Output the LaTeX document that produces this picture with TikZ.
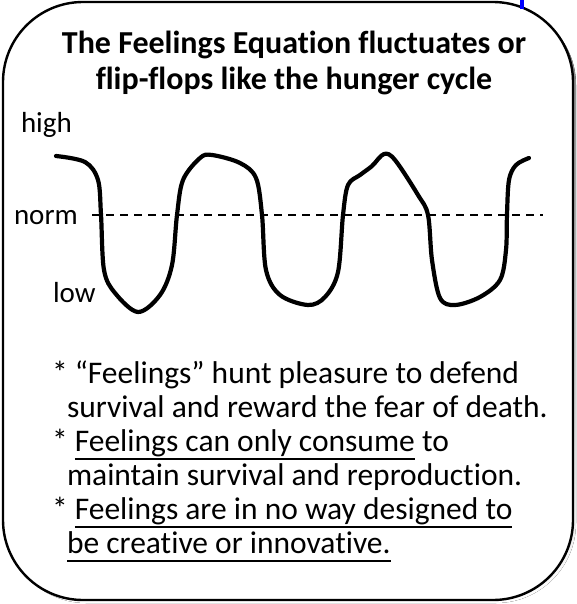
\documentclass[tikz,border=0pt]{standalone}
\usepackage{fontspec}
\setmainfont[Ligatures=NoCommon]{Carlito}
\usepackage{tikz}
\usetikzlibrary{positioning}

\definecolor{shade}{RGB}{165,155,185}
\definecolor{barblue}{RGB}{0,0,255}
\newcommand{\ulbar}[1]{\setbox0\hbox{#1}\rlap{\rule[-9.2pt]{\wd0}{2.2pt}}\box0\relax}

\begin{document}
\begin{tikzpicture}[x=1pt,y=-1pt,
  every node/.style={inner sep=0pt,outer sep=0pt},
  ttl/.style={font=\fontsize{32}{36}\selectfont\bfseries,align=center},
  lvl/.style={font=\fontsize{29}{30}\selectfont,anchor=base west},
  note/.style={font=\fontsize{31.5}{34}\selectfont,anchor=base west},
]
\useasboundingbox (0,0) rectangle (576,604);
% frame
\fill[shade,rounded corners=80pt] (6,5) rectangle (576,603);
\draw[line width=2.4pt,fill=white,rounded corners=80pt] (3,2) rectangle (573,600);
\draw[barblue,line width=4pt] (522,0) -- (522,9);
% title
\node[ttl,anchor=base] (title) at (294,90) {The Feelings Equation fluctuates or\\flip-flops like the hunger cycle};
% levels
\node[lvl] (hi) at (21,133) {high};
\node[lvl] (nm) at (14,224) {norm};
\node[lvl] (lo) at (53,302) {low};
\coordinate (normend) at (543,215);
\draw[line width=2pt,dash pattern=on 8pt off 6pt] (92,215) -- (normend);
% the cycle
\draw[line width=4.2pt,line cap=round,line join=round] plot[smooth,tension=0.55] coordinates {
  (56,156) (85,162) (98,180) (101,215) (104,270) (115,293) (138,312)
  (160,295) (172,265) (177,215) (183,180) (200,158) (212,155) (240,163)
  (256,178) (262,215) (266,270) (280,295) (308,305) (325,297) (338,272)
  (343,215) (348,185) (360,175) (372,166) (384,154) (395,160) (418,195)
  (428,215) (432,260) (440,298) (455,305) (480,297) (500,280) (506,250)
  (507,214) (509,180) (516,165) (529,158)};
% notes
\node[note] (n1) at (52,383) {* “Feelings” hunt pleasure to defend};
\node[note] (n2) at (67,417) {survival and reward the fear of death.};
\node[note] (n3) at (52,451) {* \ulbar{Feelings can only consume} to};
\node[note] (n4) at (67,485) {maintain survival and reproduction.};
\node[note] (n5) at (52,519) {* \ulbar{Feelings are in no way designed to}};
\node[note] (n6) at (67,553) {\ulbar{be creative or innovative.}};
\end{tikzpicture}
\end{document}
